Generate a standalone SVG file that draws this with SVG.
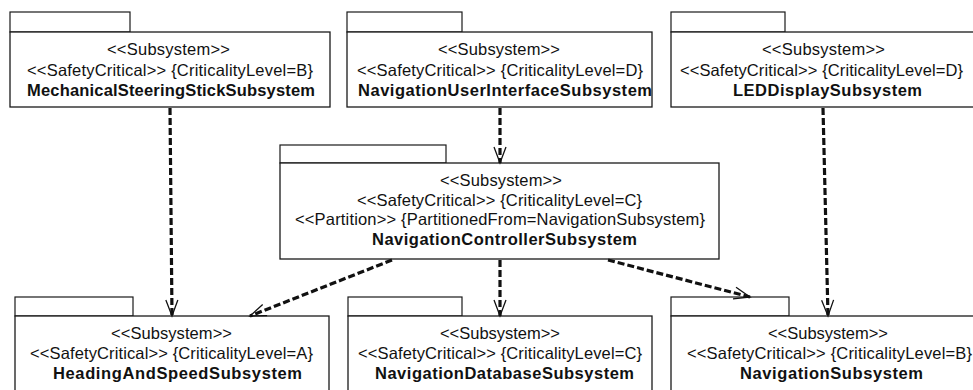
<svg xmlns="http://www.w3.org/2000/svg" width="973" height="390" viewBox="0 0 973 390">
  <style>
    .frame { fill: #fff; stroke: #1a1a1a; stroke-width: 1.3; }
    .tab { fill: #fff; stroke: #1a1a1a; stroke-width: 1.2; }
    .lbl { font-family: "Liberation Sans", Arial, Helvetica, sans-serif; font-size: 16.5px; fill: #111; }
    .name { font-weight: bold; }
    .dep { fill: none; stroke: #111; stroke-width: 3.2; stroke-dasharray: 7 3; marker-end: url(#open); }
  </style>
  <defs>
    <marker id="open" markerUnits="userSpaceOnUse" markerWidth="20" markerHeight="16" viewBox="-18 -8 20 16" refX="0" refY="0" orient="auto" overflow="visible">
      <path d="M-16,-6 L0,0 L-16,6" fill="none" stroke="#111" stroke-width="1.3"/>
    </marker>
  </defs>
  <rect width="973" height="390" fill="#fff"/>

  <!-- top row packages -->
  <g id="mechanical-steering-stick">
    <rect class="tab" x="10" y="12" width="120" height="20"/>
    <rect class="frame" x="10" y="32" width="320" height="75"/>
    <text class="lbl" x="107" y="55" textLength="123" lengthAdjust="spacing">&lt;&lt;Subsystem&gt;&gt;</text>
    <text class="lbl" x="27" y="76" textLength="286" lengthAdjust="spacing">&lt;&lt;SafetyCritical&gt;&gt; {CriticalityLevel=B}</text>
    <text class="lbl name" x="27" y="96" textLength="288" lengthAdjust="spacing">MechanicalSteeringStickSubsystem</text>
  </g>

  <g id="navigation-user-interface">
    <rect class="tab" x="347" y="12" width="115" height="20"/>
    <rect class="frame" x="347" y="32" width="305" height="75"/>
    <text class="lbl" x="438" y="55" textLength="122" lengthAdjust="spacing">&lt;&lt;Subsystem&gt;&gt;</text>
    <text class="lbl" x="357" y="76" textLength="286" lengthAdjust="spacing">&lt;&lt;SafetyCritical&gt;&gt; {CriticalityLevel=D}</text>
    <text class="lbl name" x="358" y="96" textLength="294" lengthAdjust="spacing">NavigationUserInterfaceSubsystem</text>
  </g>

  <g id="led-display">
    <rect class="tab" x="671" y="12" width="114" height="20"/>
    <rect class="frame" x="671" y="32" width="312" height="75"/>
    <text class="lbl" x="762" y="55" textLength="123" lengthAdjust="spacing">&lt;&lt;Subsystem&gt;&gt;</text>
    <text class="lbl" x="680" y="76" textLength="283" lengthAdjust="spacing">&lt;&lt;SafetyCritical&gt;&gt; {CriticalityLevel=D}</text>
    <text class="lbl name" x="733" y="96" textLength="189" lengthAdjust="spacing">LEDDisplaySubsystem</text>
  </g>

  <!-- middle package -->
  <g id="navigation-controller">
    <rect class="tab" x="280" y="145" width="166" height="18"/>
    <rect class="frame" x="280" y="163" width="439" height="96"/>
    <text class="lbl" x="440" y="186" textLength="122" lengthAdjust="spacing">&lt;&lt;Subsystem&gt;&gt;</text>
    <text class="lbl" x="357" y="206" textLength="285" lengthAdjust="spacing">&lt;&lt;SafetyCritical&gt;&gt; {CriticalityLevel=C}</text>
    <text class="lbl" x="295" y="225" textLength="410" lengthAdjust="spacing">&lt;&lt;Partition&gt;&gt; {PartitionedFrom=NavigationSubsystem}</text>
    <text class="lbl name" x="372" y="245" textLength="265" lengthAdjust="spacing">NavigationControllerSubsystem</text>
  </g>

  <!-- bottom row packages -->
  <g id="heading-and-speed">
    <rect class="tab" x="15" y="297" width="118" height="19"/>
    <rect class="frame" x="15" y="316" width="314" height="80"/>
    <text class="lbl" x="111" y="339" textLength="121" lengthAdjust="spacing">&lt;&lt;Subsystem&gt;&gt;</text>
    <text class="lbl" x="30" y="359" textLength="283" lengthAdjust="spacing">&lt;&lt;SafetyCritical&gt;&gt; {CriticalityLevel=A}</text>
    <text class="lbl name" x="53" y="379" textLength="249" lengthAdjust="spacing">HeadingAndSpeedSubsystem</text>
  </g>

  <g id="navigation-database">
    <rect class="tab" x="348" y="297" width="114" height="19"/>
    <rect class="frame" x="348" y="316" width="304" height="80"/>
    <text class="lbl" x="440" y="339" textLength="120" lengthAdjust="spacing">&lt;&lt;Subsystem&gt;&gt;</text>
    <text class="lbl" x="358" y="359" textLength="284" lengthAdjust="spacing">&lt;&lt;SafetyCritical&gt;&gt; {CriticalityLevel=C}</text>
    <text class="lbl name" x="375" y="379" textLength="259" lengthAdjust="spacing">NavigationDatabaseSubsystem</text>
  </g>

  <g id="navigation">
    <rect class="tab" x="671" y="297" width="118" height="19"/>
    <rect class="frame" x="671" y="316" width="312" height="80"/>
    <text class="lbl" x="768" y="339" textLength="120" lengthAdjust="spacing">&lt;&lt;Subsystem&gt;&gt;</text>
    <text class="lbl" x="687" y="359" textLength="285" lengthAdjust="spacing">&lt;&lt;SafetyCritical&gt;&gt; {CriticalityLevel=B}</text>
    <text class="lbl name" x="740" y="379" textLength="183" lengthAdjust="spacing">NavigationSubsystem</text>
  </g>

  <!-- dependency connectors -->
  <g id="connectors">
    <path class="dep" d="M170,108 L172,316"/>
    <path class="dep" d="M500,108 L500,163"/>
    <path class="dep" d="M823,108 L828,316"/>
    <path class="dep" d="M392,260 L250,316"/>
    <path class="dep" d="M500,260 L500,316"/>
    <path class="dep" d="M608,260 L750,297"/>
  </g>
</svg>
